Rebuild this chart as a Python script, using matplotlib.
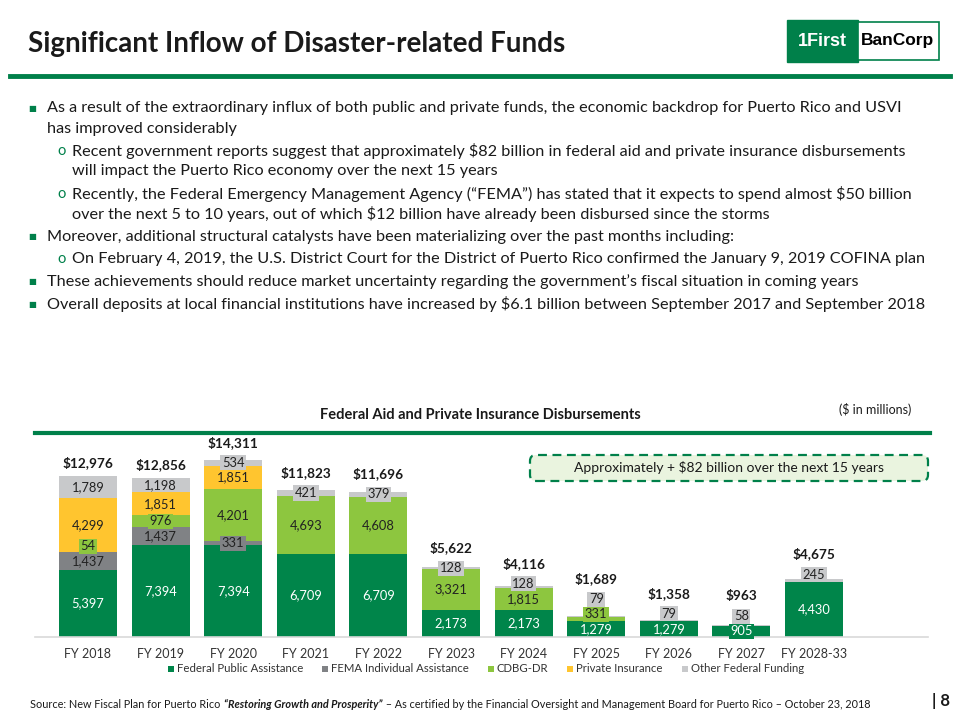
import matplotlib
matplotlib.use("Agg")
import matplotlib.pyplot as plt
from matplotlib.lines import Line2D
from matplotlib.patches import Rectangle, FancyBboxPatch
import numpy as np

plt.rcParams['text.parse_math'] = False
plt.rcParams['font.family'] = ['Lato', 'DejaVu Sans']

# ---------------- data ----------------
categories = ["FY 2018", "FY 2019", "FY 2020", "FY 2021", "FY 2022", "FY 2023",
              "FY 2024", "FY 2025", "FY 2026", "FY 2027", "FY 2028-33"]
series_names = ["Federal Public Assistance", "FEMA Individual Assistance",
                "CDBG-DR", "Private Insurance", "Other Federal Funding"]
federal_public = [5397, 7394, 7394, 6709, 6709, 2173, 2173, 1279, 1279, 905, 4430]
fema_individual = [1437, 1437, 331, 0, 0, 0, 0, 0, 0, 0, 0]
cdbg_dr = [54, 976, 4201, 4693, 4608, 3321, 1815, 331, 0, 0, 0]
private_ins = [4299, 1851, 1851, 0, 0, 0, 0, 0, 0, 0, 0]
other_federal = [1789, 1198, 534, 421, 379, 128, 128, 79, 79, 58, 245]

bullets = [
    (0, "As a result of the extraordinary influx of both public and private funds, the economic backdrop for Puerto Rico and USVI\nhas improved considerably"),
    (1, "Recent government reports suggest that approximately $82 billion in federal aid and private insurance disbursements\nwill impact the Puerto Rico economy over the next 15 years"),
    (1, "Recently, the Federal Emergency Management Agency (“FEMA”) has stated that it expects to spend almost $50 billion\nover the next 5 to 10 years, out of which $12 billion have already been disbursed since the storms"),
    (0, "Moreover, additional structural catalysts have been materializing over the past months including:"),
    (1, "On February 4, 2019, the U.S. District Court for the District of Puerto Rico confirmed the January 9, 2019 COFINA plan"),
    (0, "These achievements should reduce market uncertainty regarding the government’s fiscal situation in coming years"),
    (0, "Overall deposits at local financial institutions have increased by $6.1 billion between September 2017 and September 2018"),
]

# ---------------- styles ----------------
GREEN = '#00804A'
colors = ['#00854A', '#808285', '#8DC63F', '#FFC52F', '#C8C9CB']
label_colors = ['white', '#222222', '#222222', '#222222', '#222222']
TXT = '#1a1a1a'

W, H = 960, 720
fig = plt.figure(figsize=(9.6, 7.2), dpi=100)
fx = lambda x: x / W
fy = lambda y: 1 - y / H

# header
fig.text(fx(28), fy(44), "Significant Inflow of Disaster-related Funds", fontsize=20,
         fontweight='bold', color=TXT, va='center', ha='left')
fig.add_artist(Line2D([fx(10), fx(950)], [fy(76), fy(76)], color=GREEN, lw=3.5))
# logo
fig.add_artist(Rectangle((fx(787), fy(62)), fx(858 - 787), (62 - 20) / H, facecolor=GREEN,
                         edgecolor=GREEN, lw=1, transform=fig.transFigure))
fig.add_artist(Rectangle((fx(858), fy(60)), fx(939 - 858), (60 - 22) / H, facecolor='white',
                         edgecolor=GREEN, lw=1.2, transform=fig.transFigure))
fig.text(fx(822), fy(41), "1First", color='white', fontsize=13, fontweight='bold',
         ha='center', va='center', family=['Liberation Sans Narrow', 'Liberation Sans'])
fig.text(fx(898), fy(41), "BanCorp", color='black', fontsize=12.5, fontweight='bold',
         ha='center', va='center', family=['Liberation Sans Narrow', 'Liberation Sans'])

# bullets
y = 108
line_h = 20.5
for level, text in bullets:
    if level == 0:
        fig.text(fx(28), fy(y), "■", color=GREEN, fontsize=6, va='center', ha='left',
                 family='DejaVu Sans')
        tx = 47
    else:
        fig.text(fx(57), fy(y), "o", color=GREEN, fontsize=10.5, va='center', ha='left')
        tx = 72
    lines = text.split("\n")
    for k, ln in enumerate(lines):
        fig.text(fx(tx), fy(y + k * line_h), ln, fontsize=11.7, color=TXT, va='center', ha='left')
    y += line_h * (len(lines) - 1) + 22.5

# chart title etc
fig.text(fx(480), fy(415), "Federal Aid and Private Insurance Disbursements", fontsize=10.5,
         fontweight='bold', color=TXT, ha='center', va='center')
fig.text(fx(875), fy(410), "($ in millions)", fontsize=9, color=TXT, ha='center', va='center')
fig.add_artist(Line2D([fx(35), fx(930)], [fy(433), fy(433)], color=GREEN, lw=3))

# approx box
box = FancyBboxPatch((5.30, (H - 481) / 100), 3.98, 0.26,
                     boxstyle="round,pad=0,rounding_size=0.06", transform=fig.dpi_scale_trans,
                     facecolor='#EAF4DF', edgecolor=GREEN, lw=1.6, linestyle=(0, (4, 2.5)))
fig.add_artist(box)
fig.text(fx(729), fy(468), "Approximately + $82 billion over the next 15 years", fontsize=10,
         color=TXT, ha='center', va='center')

# axes
ax = fig.add_axes([fx(35), (H - 637) / H, (928 - 35) / W, 197 / H])
px_per_unit = 0.0124
ymax = 197 / px_per_unit
ax.set_ylim(0, ymax)
ax.set_xlim(-0.73, 11.57)
x = np.arange(len(categories))
bw = 0.8
series = [federal_public, fema_individual, cdbg_dr, private_ins, other_federal]
bottom = np.zeros(len(categories))
for vals, c in zip(series, colors):
    v = np.array(vals, dtype=float)
    ax.bar(x, v, bw, bottom=bottom, color=c, edgecolor='none')
    bottom += v

gap = 15 / px_per_unit
half_box = 7.5 / px_per_unit
for i in range(len(categories)):
    b = 0.0
    prev = -1e9
    for s, vals in enumerate(series):
        v = vals[i]
        if v == 0:
            continue
        center = b + v / 2
        small = v * px_per_unit < 13
        yl = max(center, prev + gap)
        if small and s == 4 and i >= 7:
            yl = max(yl, b + half_box)
        kw = {}
        if small:
            kw['bbox'] = dict(boxstyle='square,pad=0.12', facecolor=colors[s], edgecolor='none')
        ax.text(i, yl, f"{v:,}", ha='center', va='center', fontsize=9.3,
                color=label_colors[s], clip_on=False, zorder=5, **kw)
        prev = yl
        b += v
    total = b
    yt = max(total, prev + half_box) + 1050
    ax.text(i, yt, f"${int(total):,}", ha='center', va='center', fontsize=9.8,
            fontweight='bold', color=TXT, clip_on=False)

for sp in ['top', 'right', 'left']:
    ax.spines[sp].set_visible(False)
ax.spines['bottom'].set_color('#D9D9D9')
ax.spines['bottom'].set_linewidth(1.2)
ax.set_yticks([])
ax.set_xticks(x)
ax.set_xticklabels(categories, fontsize=9, color='#333333')
ax.tick_params(axis='x', length=0, pad=8)
ax.patch.set_visible(False)

handles = [Line2D([], [], marker='s', linestyle='none', markersize=5, color=c,
                  markeredgewidth=0) for c in colors]
fig.legend(handles, series_names, loc='center', bbox_to_anchor=(fx(485), fy(669)),
           ncol=5, frameon=False, fontsize=8.2, handletextpad=0.15, columnspacing=1.5,
           handlelength=0.8, labelcolor='#333333')

# source
SRC_FS = 7.8
t1 = fig.text(fx(30), fy(704), "Source: New Fiscal Plan for Puerto Rico ", fontsize=SRC_FS,
              color=TXT, ha='left', va='center')
t2 = fig.text(0, 0, "“Restoring Growth and Prosperity”", fontsize=SRC_FS, color=TXT,
              fontstyle='italic', fontweight='bold', ha='left', va='center')
t3 = fig.text(0, 0, " – As certified by the Financial Oversight and Management Board for Puerto Rico – October 23, 2018",
              fontsize=SRC_FS, color=TXT, ha='left', va='center')
fig.canvas.draw()
r = fig.canvas.get_renderer()
bb1 = t1.get_window_extent(r)
t2.set_position((bb1.x1 / W + 0.001, fy(704)))
fig.canvas.draw()
bb2 = t2.get_window_extent(r)
t3.set_position((bb2.x1 / W, fy(704)))
fig.text(fx(932), fy(701), "| 8", fontsize=12, fontweight='bold', color=TXT, ha='left', va='center')

fig.savefig("out.png", dpi=100)
